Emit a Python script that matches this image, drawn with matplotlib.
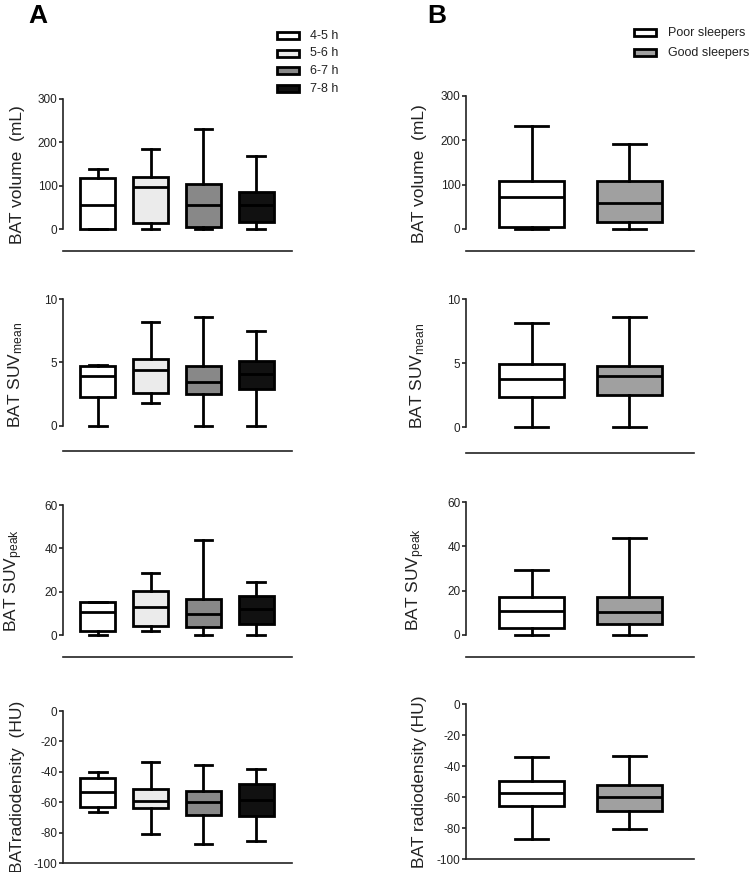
import matplotlib
matplotlib.use("Agg")
import matplotlib.pyplot as plt
from matplotlib.patches import Rectangle

plt.rcParams['font.family'] = ['Liberation Sans', 'DejaVu Sans']
plt.rcParams['mathtext.fontset'] = 'custom'
plt.rcParams['mathtext.rm'] = 'Liberation Sans'
plt.rcParams['mathtext.it'] = 'Liberation Sans:italic'
plt.rcParams['axes.unicode_minus'] = False

# ---------------- data ----------------
groups_A = ["4-5 h", "5-6 h", "6-7 h", "7-8 h"]
colors_A = ["#ffffff", "#ebebeb", "#888888", "#111111"]
groups_B = ["Poor sleepers", "Good sleepers"]
colors_B = ["#ffffff", "#a0a0a0"]

ylabels_A = ["BAT volume  (mL)", r"BAT SUV$_{\mathrm{mean}}$",
             r"BAT SUV$_{\mathrm{peak}}$", "BATradiodensity  (HU)"]
ylabels_B = ["BAT volume  (mL)", r"BAT SUV$_{\mathrm{mean}}$",
             r"BAT SUV$_{\mathrm{peak}}$", "BAT radiodensity (HU)"]
ylims = [(-50, 300), (-2, 10), (-10, 60), (-100, 0)]
yticks = [[0, 100, 200, 300], [0, 5, 10], [0, 20, 40, 60], [0, -20, -40, -60, -80, -100]]

# A: volume
volA_min = [0, 0, 0, 0]
volA_q1 = [0, 15, 5, 17]
volA_med = [55, 97, 55, 55]
volA_q3 = [118, 120, 105, 86]
volA_max = [138, 186, 232, 168]
# A: SUVmean
meanA_min = [0, 1.78, 0, 0]
meanA_q1 = [2.26, 2.57, 2.49, 2.86]
meanA_med = [3.94, 4.38, 3.44, 4.07]
meanA_q3 = [4.75, 5.28, 4.75, 5.09]
meanA_max = [4.8, 8.19, 8.6, 7.45]
# A: SUVpeak
peakA_min = [0, 1.8, 0, 0]
peakA_q1 = [1.8, 4.1, 3.8, 5.2]
peakA_med = [10.7, 13.0, 9.6, 12.2]
peakA_q3 = [15.1, 20.6, 16.5, 18.2]
peakA_max = [15.1, 28.9, 43.7, 24.6]
# A: radiodensity
huA_min = [-66.4, -80.7, -87.3, -85.3]
huA_q1 = [-63.2, -64.0, -68.6, -69.3]
huA_med = [-53.3, -59.0, -59.9, -58.3]
huA_q3 = [-43.9, -51.1, -52.9, -47.8]
huA_max = [-39.9, -33.3, -35.5, -37.9]

# B: volume
volB_min = [0, 0]
volB_q1 = [4.5, 15]
volB_med = [73, 58]
volB_q3 = [107, 107]
volB_max = [232, 192]
# B: SUVmean
meanB_min = [0, 0]
meanB_q1 = [2.4, 2.55]
meanB_med = [3.74, 3.97]
meanB_q3 = [4.95, 4.77]
meanB_max = [8.14, 8.61]
# B: SUVpeak
peakB_min = [0, 0]
peakB_q1 = [3.2, 4.7]
peakB_med = [10.6, 10.3]
peakB_q3 = [16.9, 16.9]
peakB_max = [29.5, 43.7]
# B: radiodensity
huB_min = [-87.1, -80.5]
huB_q1 = [-65.7, -68.9]
huB_med = [-57.3, -60.1]
huB_q3 = [-49.4, -52.1]
huB_max = [-34.5, -33.7]

dataA = [
    (volA_min, volA_q1, volA_med, volA_q3, volA_max),
    (meanA_min, meanA_q1, meanA_med, meanA_q3, meanA_max),
    (peakA_min, peakA_q1, peakA_med, peakA_q3, peakA_max),
    (huA_min, huA_q1, huA_med, huA_q3, huA_max),
]
dataB = [
    (volB_min, volB_q1, volB_med, volB_q3, volB_max),
    (meanB_min, meanB_q1, meanB_med, meanB_q3, meanB_max),
    (peakB_min, peakB_q1, peakB_med, peakB_q3, peakB_max),
    (huB_min, huB_q1, huB_med, huB_q3, huB_max),
]

W, H = 752, 872
fig = plt.figure(figsize=(W / 100, H / 100), dpi=100)


def px_axes(x0, x1, ytop, ybot):
    return fig.add_axes([x0 / W, 1 - ybot / H, (x1 - x0) / W, (ybot - ytop) / H])


rowsA = [(99, 251), (299, 451), (505, 657), (711, 863)]
rowsB = [(96, 251), (299, 453), (502, 657), (704, 859)]

LW = 2.0


def draw(ax, data, colors, ylabel, ylim, ticks, xlim, label_x):
    mn, q1, md, q3, mx = data
    stats = []
    for i in range(len(md)):
        stats.append(dict(med=md[i], q1=q1[i], q3=q3[i], whislo=mn[i], whishi=mx[i], fliers=[]))
    bp = ax.bxp(stats, positions=list(range(1, len(md) + 1)), widths=0.66,
                patch_artist=True, showfliers=False, showcaps=True,
                boxprops=dict(linewidth=LW, edgecolor='black'),
                medianprops=dict(color='black', linewidth=LW),
                whiskerprops=dict(color='black', linewidth=LW),
                capprops=dict(color='black', linewidth=LW),
                capwidths=0.33)
    for patch, c in zip(bp['boxes'], colors):
        patch.set_facecolor(c)
    ax.set_xlim(*xlim)
    ax.set_ylim(*ylim)
    ax.set_yticks(ticks)
    ax.set_xticks([])
    for s in ['top', 'right']:
        ax.spines[s].set_visible(False)
    for s in ['left', 'bottom']:
        ax.spines[s].set_linewidth(1.2)
        ax.spines[s].set_color('#222222')
    ax.spines['left'].set_bounds(min(ticks), max(ticks))
    ax.tick_params(axis='y', length=3, width=1.2, color='#222222', labelsize=8.5,
                   labelcolor='#222222', pad=1)
    ax.set_ylabel(ylabel, fontsize=12.5, color='#222222')
    ax.yaxis.set_label_coords(label_x, 0.5)
    ax.set_facecolor('none')


for r in range(4):
    axA = px_axes(63, 292, *rowsA[r])
    draw(axA, dataA[r], colors_A, ylabels_A[r], ylims[r], yticks[r], (0.34, 4.68), -0.165)
    axB = px_axes(466, 694, *rowsB[r])
    draw(axB, dataB[r], colors_B, ylabels_B[r], ylims[r], yticks[r], (0.33, 2.66), -0.172)

# panel letters
fig.text(38 / W, 1 - 16 / H, "A", fontsize=19, fontweight='bold', ha='center', va='center')
fig.text(437 / W, 1 - 16 / H, "B", fontsize=19, fontweight='bold', ha='center', va='center')


def legend(labels, colors, x0, ys, text_x):
    for lab, c, y in zip(labels, colors, ys):
        fig.patches.append(Rectangle((x0 / W, 1 - (y + 3.5) / H), 22 / W, 7 / H,
                                     transform=fig.transFigure, facecolor=c,
                                     edgecolor='black', linewidth=2.0))
        fig.text(text_x / W, 1 - y / H, lab, fontsize=9, va='center', ha='left',
                 color='#222222')


legend(groups_A, colors_A, 277, [36, 53.5, 71, 89], 310)
legend(groups_B, colors_B, 634, [33, 53], 668)

fig.savefig("out.png", dpi=100)
